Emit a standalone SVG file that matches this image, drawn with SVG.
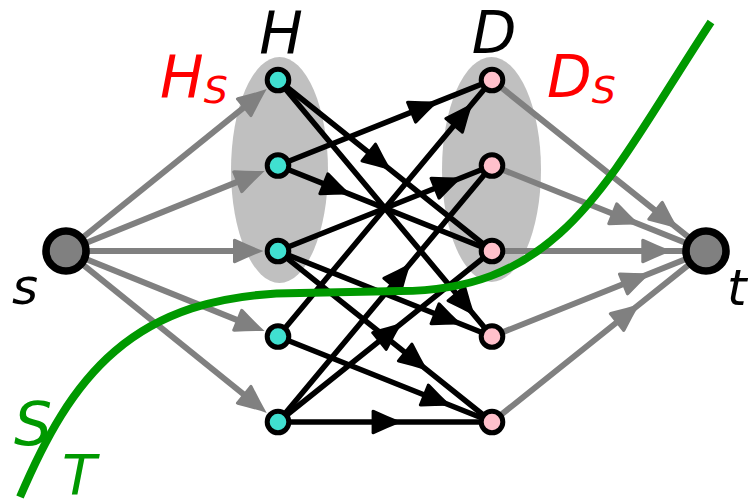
<svg xmlns="http://www.w3.org/2000/svg" width="748" height="503" viewBox="0 0 748 503">
<style>
.lbl{font-family:"DejaVu Sans",sans-serif;font-style:italic;}
.be{fill:none;stroke:#000;stroke-width:5.5;marker-mid:url(#ab)}
.ge{fill:none;stroke:#808080;stroke-width:6;}
.gm{marker-mid:url(#ag)}
.gend{marker-end:url(#agEnd)}
.hn{fill:#40E0D0;stroke:#000;stroke-width:5}
.dn{fill:#FFC0CB;stroke:#000;stroke-width:5}
.st{fill:#808080;stroke:#000;stroke-width:7.6}
.grp{fill:#c0c0c0}
</style>
<defs>
<path id="ah" d="M0,0 Q-14,-5.5 -28,-12 Q-31,-13 -30.5,-9.5 L-30.5,9.5 Q-31,13 -28,12 Q-14,5.5 0,0Z"/>
<marker id="ab" markerUnits="userSpaceOnUse" orient="auto" refX="0" refY="0" markerWidth="1" markerHeight="1" overflow="visible">
<use href="#ah" fill="#000"/>
</marker>
<marker id="ag" markerUnits="userSpaceOnUse" orient="auto" refX="0" refY="0" markerWidth="1" markerHeight="1" overflow="visible">
<use href="#ah" fill="#808080"/>
</marker>
<marker id="agEnd" markerUnits="userSpaceOnUse" orient="auto" refX="-12" refY="0" markerWidth="1" markerHeight="1" overflow="visible">
<use href="#ah" fill="#808080"/>
</marker>
</defs>
<g id="groups">
<ellipse id="Hgroup" class="grp" cx="279.5" cy="170" rx="48.5" ry="113"/>
<ellipse id="Dgroup" class="grp" cx="491.5" cy="169.5" rx="49.5" ry="112.5"/>
</g>
<g id="connectors">
<path class="ge gend" d="M66,251 L257.4,96.6"/>
<path class="ge gend" d="M66,251 L253.5,175.4"/>
<path class="ge gend" d="M66,251 L251.5,251"/>
<path class="ge gend" d="M66,251 L253.5,326.6"/>
<path class="ge gend" d="M66,251 L257.4,405.4"/>
<path class="ge gm" d="M492,80 L678.2,228.8 L706,251"/>
<path class="ge gm" d="M492,165.5 L639.7,224.5 L706,251"/>
<path class="ge gm" d="M492,251 L671.8,251 L706,251"/>
<path class="ge gm" d="M492,336.5 L650.4,273.2 L706,251"/>
<path class="ge gm" d="M492,422 L639.7,304 L706,251"/>
<path class="be" d="M278,80 L391.4,170.6 L492,251"/>
<path class="be" d="M278,80 L474.9,316 L492,336.5"/>
<path class="be" d="M278,165.5 L438.5,101.4 L492,80"/>
<path class="be" d="M278,165.5 L350.8,194.6 L492,251"/>
<path class="be" d="M278,251 L462,177.5 L492,165.5"/>
<path class="be" d="M278,251 L462,324.5 L492,336.5"/>
<path class="be" d="M278,251 L427.8,370.7 L492,422"/>
<path class="be" d="M278,336.5 L472.7,103.1 L492,80"/>
<path class="be" d="M278,336.5 L451.3,405.8 L492,422"/>
<path class="be" d="M278,422 L410.7,263 L492,165.5"/>
<path class="be" d="M278,422 L402.1,322.8 L492,251"/>
<path class="be" d="M278,422 L402.1,422 L492,422"/>
</g>
<g id="cut">
<path d="M20,497 C70,380 130,293 300,293 L400,291 C565,291 610,175 711,22" fill="none" stroke="#009900" stroke-width="8"/>
</g>
<g id="s"><circle class="st" cx="66" cy="251" r="20"/></g>
<g id="t"><circle class="st" cx="706" cy="251" r="20"/></g>
<g id="H1"><circle class="hn" cx="278" cy="80" r="10.8"/></g>
<g id="H2"><circle class="hn" cx="278" cy="165.5" r="10.8"/></g>
<g id="H3"><circle class="hn" cx="278" cy="251" r="10.8"/></g>
<g id="H4"><circle class="hn" cx="278" cy="336.5" r="10.8"/></g>
<g id="H5"><circle class="hn" cx="278" cy="422" r="10.8"/></g>
<g id="D1"><circle class="dn" cx="492" cy="80" r="10.8"/></g>
<g id="D2"><circle class="dn" cx="492" cy="165.5" r="10.8"/></g>
<g id="D3"><circle class="dn" cx="492" cy="251" r="10.8"/></g>
<g id="D4"><circle class="dn" cx="492" cy="336.5" r="10.8"/></g>
<g id="D5"><circle class="dn" cx="492" cy="422" r="10.8"/></g>
<g id="labels">
<text class="lbl" x="281" y="53" font-size="58" text-anchor="middle" fill="#000">H</text>
<text class="lbl" x="494" y="53" font-size="58" text-anchor="middle" fill="#000">D</text>
<text class="lbl" x="160" y="97" font-size="58" fill="#ff0000">H<tspan font-size="38" dy="6">S</tspan></text>
<text class="lbl" x="547" y="97" font-size="58" fill="#ff0000">D<tspan font-size="38" dy="6">S</tspan></text>
<text class="lbl" x="12" y="304" font-size="50" fill="#000">s</text>
<text class="lbl" x="727" y="305" font-size="50" fill="#000">t</text>
<text class="lbl" x="14" y="445" font-size="60" fill="#009900">S</text>
<text class="lbl" x="62" y="494" font-size="56" fill="#009900">T</text>
</g>
</svg>
